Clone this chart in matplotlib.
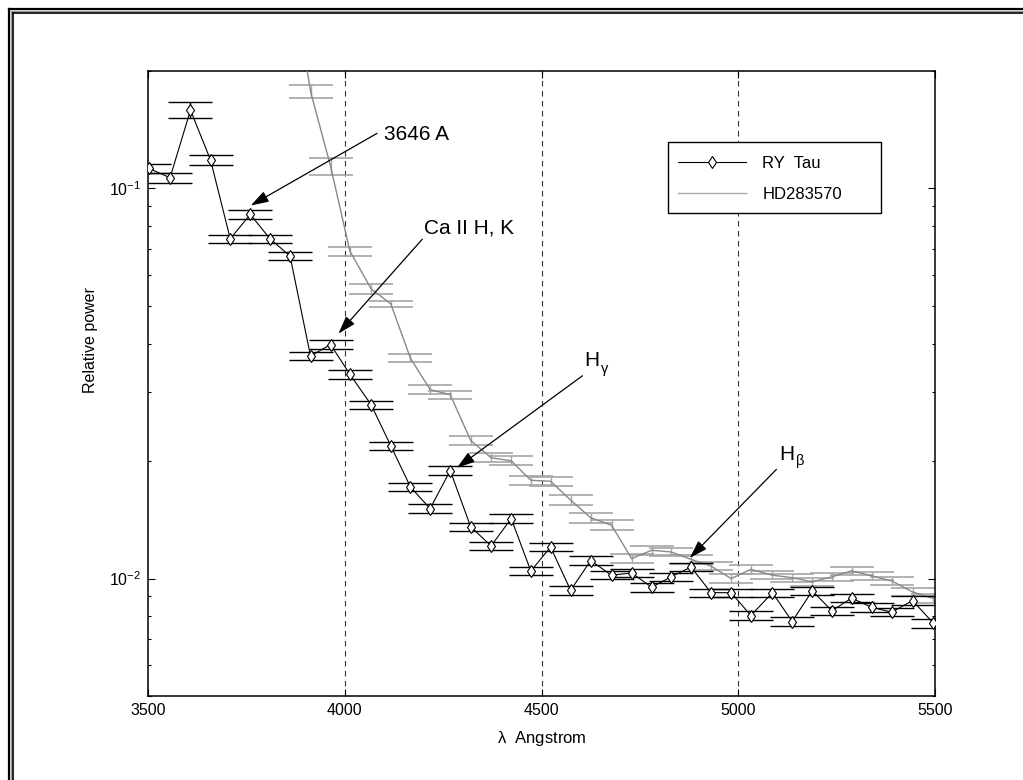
import matplotlib
matplotlib.use("Agg")
import matplotlib.pyplot as plt
from matplotlib.lines import Line2D
from matplotlib.patches import Rectangle
import numpy as np

plt.rcParams['font.family'] = ['Liberation Sans', 'DejaVu Sans']
plt.rcParams['mathtext.fontset'] = 'custom'
plt.rcParams['mathtext.rm'] = 'Liberation Sans'
plt.rcParams['mathtext.it'] = 'Liberation Sans:italic'
plt.rcParams['axes.unicode_minus'] = False

# ---------------- data ----------------
wavelength = [3503, 3556, 3608, 3659, 3709, 3760, 3810, 3861, 3913, 3964,
              4013, 4067, 4117, 4167, 4217, 4268, 4320, 4372, 4423, 4473,
              4523, 4574, 4625, 4678, 4729, 4780, 4829, 4880, 4931, 4982,
              5032, 5087, 5137, 5188, 5238, 5288, 5339, 5390, 5443, 5496]

ry_tau = [0.1125, 0.1065, 0.1588, 0.1182, 0.0743, 0.0858, 0.0743, 0.0671, 0.0372, 0.0398,
          0.0334, 0.0279, 0.0219, 0.01717, 0.01511, 0.01892, 0.01357, 0.01213, 0.01425, 0.01045,
          0.01205, 0.00933, 0.01112, 0.0102, 0.01034, 0.0095, 0.0101, 0.0107, 0.0092, 0.0092,
          0.00804, 0.0092, 0.00776, 0.0093, 0.00827, 0.00891, 0.00844, 0.0082, 0.00878, 0.00768]
ry_rel_err = [0.025, 0.03, 0.048, 0.03, 0.025, 0.025, 0.025, 0.025, 0.025, 0.025,
              0.025, 0.025, 0.025, 0.025, 0.025, 0.025, 0.025, 0.025, 0.025, 0.025,
              0.025, 0.025, 0.025, 0.025, 0.025, 0.025, 0.025, 0.025, 0.025, 0.025,
              0.027, 0.025, 0.027, 0.025, 0.025, 0.025, 0.025, 0.025, 0.025, 0.027]

hd_start = 7  # HD283570 starts at wavelength[7]
hd283570 = [0.38, 0.1774, 0.1139, 0.0691, 0.0553, 0.0506, 0.0367, 0.0305, 0.0296, 0.0226,
            0.0204, 0.02004, 0.01786, 0.01776, 0.01589, 0.01432, 0.0137, 0.01125, 0.01182, 0.0117,
            0.0112, 0.01076, 0.0100, 0.01056, 0.0102, 0.01005, 0.00981, 0.0101, 0.01047, 0.01016,
            0.00986, 0.00924, 0.00889]
hd_rel_err = [0.035, 0.036, 0.048, 0.027, 0.03, 0.02, 0.023, 0.025, 0.025, 0.028,
              0.027, 0.027, 0.025, 0.025, 0.03, 0.03, 0.03, 0.025, 0.025, 0.025,
              0.025, 0.025, 0.025, 0.025, 0.025, 0.025, 0.025, 0.025, 0.025, 0.025,
              0.025, 0.025, 0.025]

x_ticks = [3500, 4000, 4500, 5000, 5500]
grid_x = [4000, 4500, 5000]

# annotations: label, subscript, text position, subscript position, arrow start, arrow tip
ann_labels = ['3646 A', 'Ca II H, K', 'H', 'H']
ann_subs = ['', '', '\u03b3', '\u03b2']
ann_text_xy = [(4100, 0.1375), (4201, 0.0794), (4608, 0.0362), (5103, 0.0208)]
ann_sub_xy = [None, None, (4650, 0.0344), (5146, 0.0200)]
ann_start_xy = [(4082, 0.1384), (4197, 0.0741), (4604, 0.0331), (5097, 0.01905)]
ann_tip_xy = [(3761, 0.0904), (3984, 0.04246), (4285, 0.01922), (4877, 0.0113)]

# ---------------- figure ----------------
fig = plt.figure(figsize=(10.23, 7.80), dpi=100)
W, H = 1023, 780

def fx(px):
    return px / W
def fy(py):
    return 1 - py / H
for pos, col, lw in [(8.5, 'black', 1.6), (10.5, '#9a9a9a', 1.0), (12.5, 'black', 1.2)]:
    fig.add_artist(Line2D([fx(pos), fx(pos)], [fy(pos), 0], color=col, lw=lw))
    fig.add_artist(Line2D([fx(pos), 1], [fy(pos), fy(pos)], color=col, lw=lw))

ax = fig.add_axes([148 / W, 1 - 696 / H, (935 - 148) / W, (696 - 71) / H])
ax.set_yscale('log')
ax.set_xlim(3500, 5500)
ax.set_ylim(0.005, 0.2)

for gx in grid_x:
    ax.axvline(gx, color='#333333', lw=0.8, ls=(0, (5, 4)), zorder=1)

wl = np.array(wavelength, dtype=float)
ry = np.array(ry_tau)
ry_err = ry * np.array(ry_rel_err)
hd = np.array(hd283570)
hd_wl = wl[hd_start:]
hd_err = hd * np.array(hd_rel_err)

# HD283570 (gray)
ax.errorbar(hd_wl, hd, yerr=hd_err, fmt='none', ecolor='#a6a6a6', elinewidth=1.0,
            capsize=15.8, capthick=1.2, zorder=2)
ax.plot(hd_wl, hd, color='#888888', lw=1.0, zorder=3)

# RY Tau (black)
ax.errorbar(wl, ry, yerr=ry_err, fmt='none', ecolor='black', elinewidth=1.0,
            capsize=15.8, capthick=1.0, zorder=4)
ax.plot(wl, ry, color='black', lw=0.8, marker='d', markersize=6,
        markerfacecolor='white', markeredgecolor='black', markeredgewidth=0.8, zorder=5)

# ticks
ax.set_xticks(x_ticks)
ax.set_xticklabels([str(t) for t in x_ticks])
ax.tick_params(which='both', direction='in', top=True, right=True, labelsize=11.5)
ax.tick_params(which='major', length=5, width=0.8, pad=5)
ax.tick_params(which='minor', length=2.5, width=0.8)
ax.xaxis.set_minor_locator(matplotlib.ticker.NullLocator())
ax.yaxis.set_minor_formatter(matplotlib.ticker.NullFormatter())
for s in ax.spines.values():
    s.set_linewidth(1.1)

ax.set_xlabel(r'$\mathregular{\lambda}$  Angstrom', fontsize=12)
ax.set_ylabel('Relative power', fontsize=11.5)
ax.xaxis.set_label_coords(0.5, -0.052)
ax.yaxis.set_label_coords(-0.064, (696 - 340) / 625)

# annotations
for lab, sub, txy, sxy2, sxy, pxy in zip(ann_labels, ann_subs, ann_text_xy, ann_sub_xy,
                                         ann_start_xy, ann_tip_xy):
    ax.annotate('', xy=pxy, xytext=sxy,
                arrowprops=dict(arrowstyle='-|>,head_length=1.1,head_width=0.35',
                                color='black', lw=0.9, shrinkA=0, shrinkB=0), zorder=6)
    ax.text(txy[0], txy[1], lab, fontsize=15, ha='left', va='center', zorder=6)
    if sub:
        ax.text(sxy2[0], sxy2[1], sub, fontsize=10.5, ha='left', va='center', zorder=6)

# legend
handles = [Line2D([], [], color='black', lw=0.8, marker='d', markersize=6,
                  markerfacecolor='white', markeredgecolor='black', markeredgewidth=0.8),
           Line2D([], [], color='#a6a6a6', lw=1.0)]
leg = ax.legend(handles, ['RY  Tau', 'HD283570'], loc='upper left',
                bbox_to_anchor=((680 - 148) / 787 - 0.012, (696 - 148) / 625),
                frameon=False, fontsize=12, numpoints=1, handlelength=4.1,
                handletextpad=0.95, labelspacing=1.0, borderaxespad=0, borderpad=0.45)
ax.add_patch(Rectangle(((668 - 148) / 787, (696 - 213) / 625), (881 - 668) / 787, (213 - 142) / 625,
                       transform=ax.transAxes, facecolor='white', edgecolor='black', lw=1.0,
                       zorder=7))
leg.set_zorder(8)

fig.savefig('out.png', dpi=100)
